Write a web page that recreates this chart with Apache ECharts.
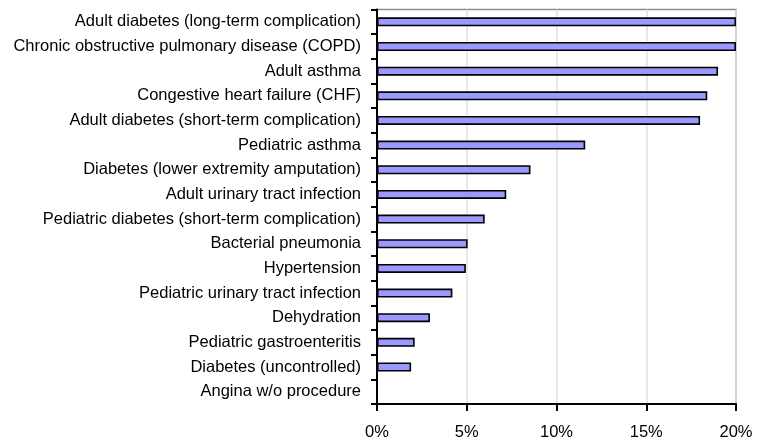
<!DOCTYPE html>
<html>
<head>
<meta charset="utf-8">
<script src="https://cdn.jsdelivr.net/npm/echarts@6/dist/echarts.min.js"></script>
<style>
  html, body { margin: 0; padding: 0; background: #fff; }
  #charts { width: 757px; height: 441px; }
</style>
</head>
<body>
<div id="charts"></div>
<script>
    var categories = [
        'Adult diabetes (long-term complication)',
        'Chronic obstructive pulmonary disease (COPD)',
        'Adult asthma',
        'Congestive heart failure (CHF)',
        'Adult diabetes (short-term complication)',
        'Pediatric asthma',
        'Diabetes (lower extremity amputation)',
        'Adult urinary tract infection',
        'Pediatric diabetes (short-term complication)',
        'Bacterial pneumonia',
        'Hypertension',
        'Pediatric urinary tract infection',
        'Dehydration',
        'Pediatric gastroenteritis',
        'Diabetes (uncontrolled)',
        'Angina w/o procedure'
    ];
    var values = [20.0, 20.0, 19.0, 18.4, 18.0, 11.6, 8.55, 7.2, 6.0, 5.05, 4.95, 4.2, 2.95, 2.1, 1.9, 0];
    var xTicks = [0, 5, 10, 15, 20];

    // pick a narrow face if one is installed, else plain sans at a smaller size
    function hasFont(name) {
        var ctx = document.createElement('canvas').getContext('2d');
        var s = 'abcdefghijklmnopqrstuvwxyz ABCDEFGHIJ 0123456789';
        ctx.font = '40px monospace';
        var w1 = ctx.measureText(s).width;
        ctx.font = "40px '" + name + "', monospace";
        var w2 = ctx.measureText(s).width;
        return w1 !== w2;
    }
    var font = "'Liberation Sans', Arial, sans-serif";
    var fontSize = 16.5;
    if (hasFont('Liberation Sans Narrow')) {
        font = "'Liberation Sans Narrow'";
        fontSize = 20;
    } else if (hasFont('Arial Narrow')) {
        font = "'Arial Narrow'";
        fontSize = 20;
    }

    var myChart = echarts.init(document.getElementById('charts'), null, {renderer: 'canvas'});

    myChart.setOption({
        animation: false,
        grid: {
            left: 377,
            right: 21,
            top: 9.5,
            bottom: 37,
            show: true,
            borderColor: '#8c8c8c',
            borderWidth: 1.5,
            outerBoundsMode: 'none',
            containLabel: false
        },
        xAxis: {
            type: 'value',
            min: xTicks[0],
            max: xTicks[xTicks.length - 1],
            interval: 5,
            axisLine: {show: true, lineStyle: {color: '#000', width: 2}},
            axisTick: {show: true, length: 7, lineStyle: {color: '#000', width: 2}},
            axisLabel: {
                color: '#000',
                fontFamily: font,
                fontSize: fontSize,
                margin: 20,
                formatter: function (v) { return v + '%'; }
            },
            splitLine: {show: true, lineStyle: {color: '#e0e0e0', width: 1.5}}
        },
        yAxis: {
            type: 'category',
            inverse: true,
            data: categories,
            axisLine: {show: true, lineStyle: {color: '#000', width: 2}},
            axisTick: {show: true, length: 6, lineStyle: {color: '#000', width: 2}},
            axisLabel: {
                color: '#000',
                fontFamily: font,
                fontSize: fontSize,
                interval: 0,
                margin: 16
            }
        },
        series: [
            {
                type: 'bar',
                data: values,
                barWidth: 9,
                itemStyle: {
                    color: '#9999ff',
                    borderColor: '#000',
                    borderWidth: 1.6
                }
            }
        ]
    });
</script>
</body>
</html>
